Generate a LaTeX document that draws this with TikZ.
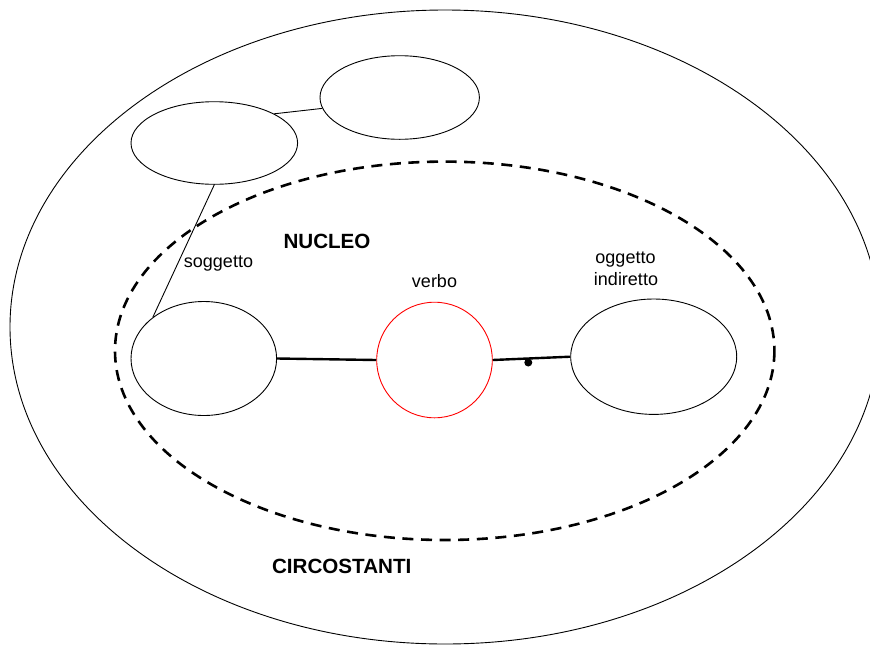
\documentclass[tikz,border=0pt]{standalone}
\usepackage{fontspec}
\setmainfont{Liberation Sans}
\usetikzlibrary{shapes.geometric}
\tikzset{
  bubble/.style={ellipse, draw=black, line width=0.9pt, inner sep=0pt},
  verbobox/.style={circle, draw=red, line width=0.9pt, inner sep=0pt, minimum size=115.6pt},
  lbl/.style={anchor=base, inner sep=0pt, font=\fontsize{18}{22}\selectfont},
  head/.style={anchor=base, inner sep=0pt, font=\fontsize{20.6}{24}\selectfont\bfseries},
  thin/.style={line width=0.9pt},
  thickline/.style={line width=2.4pt},
  nucleo/.style={line width=2.6pt, dash pattern=on 11pt off 7.6pt}
}
\begin{document}
\begin{tikzpicture}[x=1pt,y=-1pt]
\useasboundingbox (0,0) rectangle (870,646);
\begin{scope}
  \clip (0,0) rectangle (870,646);
  \node[bubble, minimum width=870pt, minimum height=634pt] (outer) at (445,327) {};
\end{scope}
\node[bubble, draw=none, minimum width=659.4pt, minimum height=378.4pt] (core) at (444.7,350.8) {};
\draw[nucleo] (444.7,350.8) ellipse [x radius=329.7, y radius=189.2];

\node[bubble, minimum width=166.6pt, minimum height=82.6pt] (tl) at (214.3,143) {};
\node[bubble, minimum width=159.4pt, minimum height=83.6pt] (tr) at (399.7,97.5) {};
\node[bubble, minimum width=145.6pt, minimum height=114pt] (sog) at (203.8,358.5) {};
\node[verbobox] (verbo) at (434.5,360) {};
\node[bubble, minimum width=166pt, minimum height=115.4pt] (ogg) at (653.7,356.7) {};

\draw[thin] (tl.26) -- (tr.188);
\draw[thin] (tl.270) -- (sog.141.5);
\draw[thickline] (sog.east) -- (verbo.west);
\draw[thickline] (verbo.east) -- (ogg.west);
\node[circle, fill=black, inner sep=0pt, minimum size=8pt] (dot) at (528.3,362.5) {};

\node[head] (tnucleo) at (327,248) {NUCLEO};
\node[head] (tcirc) at (341.7,573) {CIRCOSTANTI};
\node[lbl] (tsog) at (218.5,267) {soggetto};
\node[lbl] (tverbo) at (434.5,287) {verbo};
\node[lbl] (togg1) at (625.5,263) {oggetto};
\node[lbl] (togg2) at (626,285) {indiretto};
\end{tikzpicture}
\end{document}
